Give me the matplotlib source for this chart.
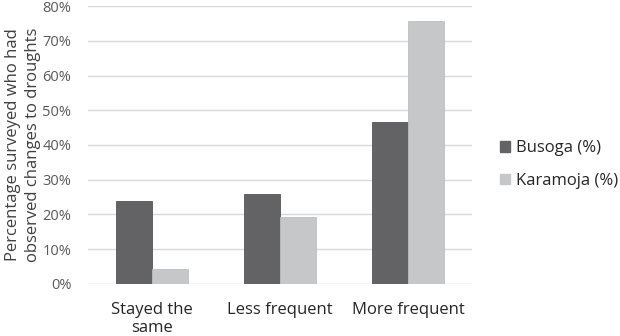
import matplotlib.pyplot as plt
import numpy as np
from matplotlib.ticker import PercentFormatter
from matplotlib.patches import Patch

plt.rcParams['font.family'] = ['Open Sans', 'DejaVu Sans']

categories = ["Stayed the\nsame", "Less frequent", "More frequent"]
busoga = [24.0, 25.8, 46.5]
karamoja = [4.4, 19.3, 75.8]
series_names = ["Busoga (%)", "Karamoja (%)"]
dark = "#636366"
light = "#c6c7c9"

fig = plt.figure(figsize=(6.2, 3.36), dpi=100)
ax = fig.add_axes([0.142, 0.155, 0.62, 0.827])

x = np.arange(len(categories))
w = 0.28
ax.bar(x - w / 2, busoga, w, color=dark, edgecolor="#555558", linewidth=0.6, zorder=3)
ax.bar(x + w / 2, karamoja, w, color=light, edgecolor="#bebfc1", linewidth=0.6, zorder=3)

ax.set_xlim(-0.5, 2.5)
ax.set_ylim(0, 80)
ax.set_yticks(np.arange(0, 81, 10))
ax.yaxis.set_major_formatter(PercentFormatter(decimals=0))
ax.set_xticks(x)
ax.set_xticklabels(categories, fontsize=12, color="#262626", linespacing=1.15)
ax.tick_params(axis="y", labelsize=10.5, colors="#595959", length=0, pad=12)
ax.tick_params(axis="x", length=0, pad=13)
ax.grid(axis="y", color="#d9d9d9", linewidth=1, zorder=0)
for s in ax.spines.values():
    s.set_visible(False)

ax.set_ylabel("Percentage surveyed who had\nobserved changes to droughts",
              fontsize=12, color="#404040", linespacing=1.3, labelpad=1)

handles = [Patch(color=dark), Patch(color=light)]
fig.legend(handles, series_names, loc="center left", bbox_to_anchor=(0.806, 0.51),
           frameon=False, fontsize=12, handlelength=0.6, handleheight=0.6,
           handletextpad=0.35, labelspacing=1.0, labelcolor="#262626",
           borderpad=0.0, borderaxespad=0.0)

fig.savefig("out.png", dpi=100)
